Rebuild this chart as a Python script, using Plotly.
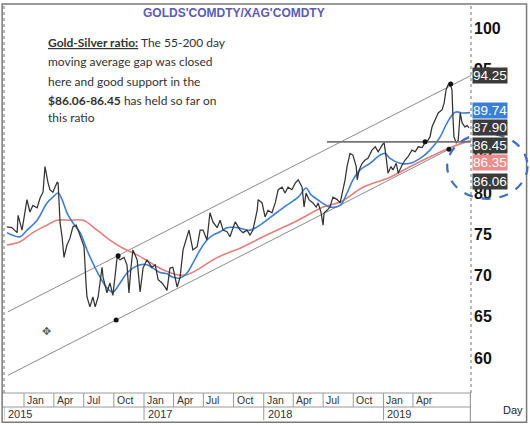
import plotly.graph_objects as go

# Gold / silver ratio
price_dates = [
    "2015-11-10", "2015-11-25", "2015-12-11", "2015-12-14", "2015-12-26",
    "2016-01-10", "2016-01-19", "2016-01-28", "2016-02-10", "2016-02-19",
    "2016-02-28", "2016-03-05", "2016-03-14", "2016-03-20", "2016-03-29",
    "2016-04-11", "2016-04-14", "2016-04-20", "2016-04-26", "2016-05-02",
    "2016-05-11", "2016-05-20", "2016-05-29", "2016-06-08", "2016-06-14",
    "2016-06-26", "2016-07-02", "2016-07-08", "2016-07-11", "2016-07-20",
    "2016-07-29", "2016-08-05", "2016-08-14", "2016-08-26", "2016-08-29",
    "2016-09-10", "2016-09-19", "2016-09-28", "2016-10-05", "2016-10-11",
    "2016-10-20", "2016-11-01", "2016-11-10", "2016-11-16", "2016-11-22",
    "2016-11-28", "2016-12-11", "2016-12-20", "2016-12-29", "2017-01-10",
    "2017-01-25", "2017-02-04", "2017-02-13", "2017-02-25", "2017-03-06",
    "2017-03-12", "2017-03-21", "2017-03-30", "2017-04-12", "2017-04-21",
    "2017-04-30", "2017-05-12", "2017-05-18", "2017-05-30", "2017-06-12",
    "2017-06-21", "2017-06-30", "2017-07-12", "2017-07-21", "2017-07-30",
    "2017-08-12", "2017-08-21", "2017-08-30", "2017-09-11", "2017-09-20",
    "2017-10-06", "2017-10-15", "2017-10-21", "2017-10-30", "2017-11-11",
    "2017-11-20", "2017-11-29", "2017-12-12", "2017-12-15", "2017-12-27",
    "2018-01-05", "2018-01-14", "2018-01-26", "2018-02-05", "2018-02-14",
    "2018-02-26", "2018-03-07", "2018-03-16", "2018-03-28", "2018-04-07",
    "2018-04-16", "2018-04-28", "2018-05-04", "2018-05-10", "2018-05-19",
    "2018-05-31", "2018-06-10", "2018-06-16", "2018-06-25", "2018-07-01",
    "2018-07-04", "2018-07-13", "2018-07-22", "2018-07-31", "2018-08-13",
    "2018-08-22", "2018-08-31", "2018-09-06", "2018-09-12", "2018-09-21",
    "2018-09-30", "2018-10-10", "2018-10-13", "2018-10-19", "2018-10-28",
    "2018-11-06", "2018-11-15", "2018-11-27", "2018-12-07", "2018-12-16",
    "2018-12-28", "2019-01-03", "2019-01-09", "2019-01-15", "2019-01-24",
    "2019-01-30", "2019-02-09", "2019-02-15", "2019-02-27", "2019-03-08",
    "2019-03-17", "2019-03-29", "2019-04-08", "2019-04-17", "2019-04-29",
    "2019-05-08", "2019-05-14", "2019-05-23", "2019-05-29", "2019-06-08",
    "2019-06-17", "2019-06-29", "2019-07-05", "2019-07-11", "2019-07-17",
    "2019-07-23", "2019-07-29", "2019-08-01", "2019-08-04", "2019-08-11",
    "2019-08-17", "2019-08-23", "2019-08-29", "2019-09-07", "2019-09-13",
    "2019-09-19",
]
price_vals = [
    75.9, 75.8, 75.2, 77.3, 75.5, 79.2, 77.7, 78.5, 78.2, 79.4,
    80.1, 83.2, 81.3, 80.4, 80.1, 81.3, 81.2, 76.4, 74.7, 72.2,
    73.7, 74.5, 75.9, 76.1, 75.5, 74.3, 73.5, 69.1, 67.4, 66.2,
    67.4, 66.2, 67.4, 71.0, 69.8, 67.9, 69.1, 67.6, 69.8, 72.2,
    71.9, 72.2, 71.3, 67.9, 70.9, 73.1, 71.9, 68.0, 70.9, 71.9,
    71.0, 71.3, 69.5, 69.1, 68.6, 68.2, 70.9, 71.0, 68.6, 69.8,
    73.1, 74.7, 75.5, 73.1, 73.5, 75.5, 75.5, 74.3, 77.6, 76.5,
    75.8, 76.7, 75.5, 75.3, 74.7, 76.5, 75.9, 75.5, 75.2, 75.5,
    74.9, 75.5, 77.9, 79.2, 78.8, 77.1, 77.9, 77.6, 78.8, 80.4,
    80.7, 80.0, 80.7, 80.4, 81.2, 81.6, 80.7, 78.3, 80.0, 79.2,
    78.8, 78.3, 78.8, 77.6, 76.1, 77.6, 77.9, 78.3, 79.5, 79.2,
    78.8, 80.4, 81.6, 83.2, 84.8, 84.6, 83.2, 81.6, 82.8, 83.6,
    84.0, 84.2, 85.2, 85.6, 85.0, 85.8, 86.1, 84.4, 82.4, 83.2,
    82.8, 83.6, 82.4, 83.4, 84.0, 84.4, 85.2, 85.0, 85.6, 85.5,
    86.1, 86.2, 86.8, 88.0, 88.8, 89.7, 90.1, 90.9, 92.5, 93.1,
    93.3, 92.5, 89.2, 86.8, 86.1, 86.4, 89.7, 88.5, 88.0, 88.2,
    87.9,
]

# 55-day moving average (blue)
ma55_dates = [
    "2015-11-10", "2015-12-20", "2016-01-10", "2016-02-10", "2016-03-11",
    "2016-03-29", "2016-04-14", "2016-04-26", "2016-05-11", "2016-05-29",
    "2016-06-20", "2016-07-11", "2016-07-29", "2016-08-20", "2016-09-10",
    "2016-09-28", "2016-10-20", "2016-11-10", "2016-11-28", "2016-12-20",
    "2017-01-10", "2017-01-28", "2017-02-17", "2017-03-12", "2017-03-30",
    "2017-04-21", "2017-05-12", "2017-05-30", "2017-06-21", "2017-07-12",
    "2017-07-30", "2017-08-21", "2017-09-11", "2017-10-12", "2017-11-20",
    "2017-12-12", "2018-01-23", "2018-03-04", "2018-04-16", "2018-05-10",
    "2018-05-25", "2018-06-25", "2018-07-22", "2018-08-22", "2018-09-12",
    "2018-09-30", "2018-10-22", "2018-11-21", "2018-12-22", "2019-01-06",
    "2019-01-21", "2019-02-21", "2019-03-23", "2019-04-23", "2019-05-23",
    "2019-06-23", "2019-07-14", "2019-08-08", "2019-09-01", "2019-09-22",
]
ma55_vals = [
    75.2, 74.7, 75.5, 76.7, 78.8, 79.5, 80.0, 79.2, 77.6, 76.4,
    75.2, 73.1, 71.5, 69.8, 68.5, 68.0, 69.1, 70.3, 70.9, 71.3,
    71.3, 70.9, 70.4, 70.2, 69.8, 69.7, 70.3, 71.5, 73.1, 74.3,
    74.9, 75.3, 75.8, 75.8, 75.5, 75.9, 77.1, 78.3, 79.5, 80.6,
    79.8, 78.9, 78.3, 78.5, 80.0, 81.6, 82.8, 83.6, 84.6, 84.8,
    84.2, 83.6, 83.6, 84.2, 85.2, 86.8, 88.5, 89.8, 89.7, 89.74,
]

# 200-day moving average (red)
ma200_dates = [
    "2015-11-10", "2015-12-20", "2016-01-28", "2016-03-11", "2016-04-11",
    "2016-05-20", "2016-06-29", "2016-08-11", "2016-09-19", "2016-10-29",
    "2016-12-11", "2017-01-19", "2017-02-28", "2017-04-12", "2017-05-12",
    "2017-06-21", "2017-07-30", "2017-09-11", "2017-10-21", "2017-12-30",
    "2018-04-16", "2018-07-01", "2018-08-22", "2018-10-31", "2019-01-21",
    "2019-04-02", "2019-06-14", "2019-07-23", "2019-09-22",
]
ma200_vals = [
    73.7, 74.1, 75.2, 76.1, 76.7, 76.7, 76.7, 75.5, 74.3, 73.3,
    72.5, 71.6, 70.7, 70.1, 70.1, 70.9, 71.9, 72.7, 73.3, 74.7,
    76.7, 78.3, 78.9, 80.7, 81.9, 83.4, 84.8, 85.5, 86.35,
]

# trend channel, support line and their anchor points
upper_dates = ["2015-11-13", "2019-09-25"]
upper_vals = [65.6, 94.25]
lower_dates = ["2015-11-13", "2019-07-20"]
lower_vals = [57.9, 85.3]
support_dates = ["2018-07-13", "2019-09-25"]
support_vals = [86.2, 86.2]
anchor_dates = ["2016-10-14", "2019-07-25", "2016-10-08", "2019-07-20", "2019-05-08"]
anchor_vals = [72.4, 93.2, 64.6, 85.3, 86.2]

# price boxes on the right axis (value, background, stacking offset in px)
box_vals = [94.25, 89.74, 87.90, 86.45, 86.35, 86.06]
box_bg = ["#3b3b3b", "#3a7fd5", "#3b3b3b", "#3b3b3b", "#e98c8a", "#3b3b3b"]
box_shift = [0, 2, 0, -6, -22, -38]

month_ticks = ["2016-01-01", "2016-04-01", "2016-07-01", "2016-10-01",
               "2017-01-01", "2017-04-01", "2017-07-01", "2017-10-01",
               "2018-01-01", "2018-04-01", "2018-07-01", "2018-10-01",
               "2019-01-01", "2019-04-01"]
month_labels = ["Jan", "Apr", "Jul", "Oct"] * 3 + ["Jan", "Apr"]
year_ticks = ["2015-11-01", "2017-01-01", "2018-01-01", "2019-01-01"]
year_labels = ["2015", "2017", "2018", "2019"]

note_lines = [
    "<b><u>Gold-Silver ratio:</u></b> The 55-200 day",
    "moving average gap was closed",
    "here and good support in the",
    "<b>$86.06-86.45</b> has held so far on",
    "this ratio",
]

SANS = "Liberation Sans, Arial, sans-serif"
NOTE = "Lato, Liberation Sans, sans-serif"

fig = go.Figure()

fig.add_trace(go.Scatter(x=upper_dates, y=upper_vals, mode="lines",
                         line=dict(color="#8c8c8c", width=1), hoverinfo="skip"))
fig.add_trace(go.Scatter(x=lower_dates, y=lower_vals, mode="lines",
                         line=dict(color="#8c8c8c", width=1), hoverinfo="skip"))
fig.add_trace(go.Scatter(x=ma200_dates, y=ma200_vals, mode="lines", line_shape="spline",
                         line=dict(color="#e4807c", width=1.6)))
fig.add_trace(go.Scatter(x=ma55_dates, y=ma55_vals, mode="lines", line_shape="spline",
                         line=dict(color="#3f7fd3", width=1.6)))
fig.add_trace(go.Scatter(x=price_dates, y=price_vals, mode="lines",
                         line=dict(color="#333333", width=1.25)))
fig.add_trace(go.Scatter(x=support_dates, y=support_vals, mode="lines",
                         line=dict(color="#747474", width=1.6)))
fig.add_trace(go.Scatter(x=anchor_dates, y=anchor_vals, mode="markers",
                         marker=dict(color="#111111", size=5)))

# price boxes
for v, bg, dy in zip(box_vals, box_bg, box_shift):
    fig.add_annotation(x=1, xref="paper", xanchor="left", xshift=1,
                       y=v, yref="y", yanchor="middle", yshift=dy,
                       text=f"{v:.2f}", showarrow=False, bgcolor=bg,
                       borderpad=0, font=dict(family=SANS, size=13.5, color="white"))

# date labels under the plot
for d, t in zip(month_ticks, month_labels):
    fig.add_annotation(x=d, xref="x", xanchor="left", xshift=1,
                       y=0, yref="paper", yanchor="middle", yshift=-7,
                       text=t, showarrow=False,
                       font=dict(family=SANS, size=10.5, color="#333333"))
    fig.add_shape(type="line", xref="x", yref="paper", x0=d, x1=d,
                  y0=0, y1=-0.036, line=dict(color="#9a9a9a", width=1))
for d, t in zip(year_ticks, year_labels):
    fig.add_annotation(x=d, xref="x", xanchor="left", xshift=2,
                       y=0, yref="paper", yanchor="middle", yshift=-21,
                       text=t, showarrow=False,
                       font=dict(family=SANS, size=11, color="#333333"))
    fig.add_shape(type="line", xref="x", yref="paper", x0=d, x1=d,
                  y0=-0.036, y1=-0.07, line=dict(color="#9a9a9a", width=1))

# frame, axis rows and dotted axis lines
fig.add_shape(type="line", xref="paper", yref="paper", x0=-0.004, x1=1,
              y0=-0.036, y1=-0.036, line=dict(color="#9a9a9a", width=1))
fig.add_shape(type="line", xref="paper", yref="paper", x0=-0.004, x1=1,
              y0=0, y1=0, line=dict(color="#9a9a9a", width=1))
fig.add_shape(type="line", xref="paper", yref="paper", x0=1, x1=1,
              y0=0, y1=1, line=dict(color="#8a8a8a", width=1.2, dash="dot"))
fig.add_shape(type="line", xref="paper", yref="paper", x0=0, x1=0,
              y0=0, y1=1, line=dict(color="#8a8a8a", width=1.2, dash="dot"))
fig.add_shape(type="line", xref="paper", yref="paper", x0=0.9985, x1=0.9985,
              y0=0, y1=-0.075, line=dict(color="#8a8a8a", width=1))
fig.add_shape(type="rect", xref="paper", yref="paper", x0=-0.004, x1=1.119,
              y0=-0.075, y1=1.0, line=dict(color="#7a7a7a", width=1.5))

# highlight ellipse round the support boxes
fig.add_shape(type="circle", xref="paper", yref="y", x0=0.949, x1=1.121,
              y0=79.3, y1=87.2, line=dict(color="#3d6fc2", width=2.2, dash="dash"))

fig.add_annotation(x=0.493, xref="paper", y=1, yref="paper", yanchor="top", yshift=0,
                   xanchor="center", showarrow=False,
                   text="<b>GOLDS'COMDTY/XAG'COMDTY</b>",
                   font=dict(family=SANS, size=12, color="#5b5bb8"))

note_y = [0.900, 0.851, 0.802, 0.753, 0.707]
for line, ly in zip(note_lines, note_y):
    fig.add_annotation(x=0.09, xref="paper", xanchor="left", y=ly, yref="paper",
                       yanchor="middle", align="left", showarrow=False, text=line,
                       font=dict(family=NOTE, size=12, color="#333333"))

# mouse cursor left on the screenshot
fig.add_annotation(x=0.078, xref="paper", y=0.135, yref="paper", showarrow=False,
                   text="✥", font=dict(family="DejaVu Sans", size=11, color="#555555"))

fig.add_annotation(x=1.09, xref="paper", xanchor="center", y=0, yref="paper",
                   yanchor="middle", yshift=-17, showarrow=False, text="Day",
                   font=dict(family=SANS, size=11, color="#222222"))

fig.update_layout(
    width=530, height=425,
    margin=dict(l=4, r=59, t=4, b=32),
    paper_bgcolor="white", plot_bgcolor="white",
    showlegend=False,
    xaxis=dict(type="date", range=["2015-11-01", "2019-09-25"],
               showgrid=False, showticklabels=False, zeroline=False, fixedrange=True),
    yaxis=dict(range=[55.76, 102.91], side="right", tickvals=[60, 65, 70, 75, 80, 85, 90, 95, 100],
               showgrid=False, zeroline=False, ticks="", ticklabelstandoff=2,
               tickfont=dict(family=SANS, size=16, color="#111111", weight="bold")),
)

# the page body has a default 8px margin; drop it so the figure sits at the corner
fig.write_html("out.html", config={"displayModeBar": False},
               post_script="document.body.style.margin='0px';")
